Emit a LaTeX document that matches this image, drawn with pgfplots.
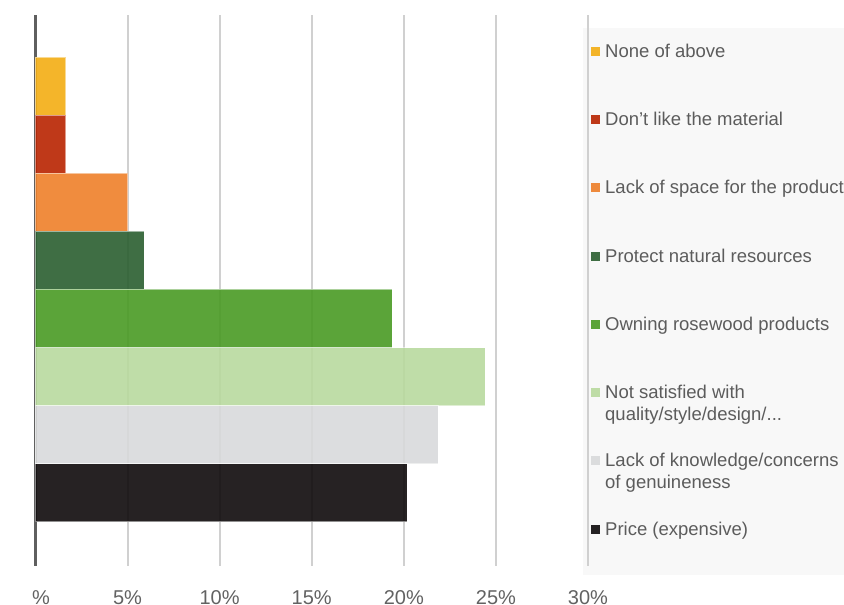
\documentclass[border=0pt]{standalone}
\usepackage{fontspec}
\setmainfont{Liberation Sans}
\usepackage{pgfplots}
\pgfplotsset{compat=1.18}
\definecolor{cNone}{HTML}{F3AD13}
\definecolor{cDont}{HTML}{B82400}
\definecolor{cSpace}{HTML}{EE7F29}
\definecolor{cProtect}{HTML}{2A5E30}
\definecolor{cOwning}{HTML}{499A24}
\definecolor{cNotsat}{HTML}{B8D99E}
\definecolor{cKnow}{HTML}{D8D9DB}
\definecolor{cPrice}{HTML}{0E0A0B}
\definecolor{axisgray}{HTML}{5F5F5F}
\definecolor{gridgray}{HTML}{D0D0D0}
\definecolor{tickgray}{HTML}{626262}
\definecolor{legendgray}{HTML}{5C5C5C}
\definecolor{panelgray}{HTML}{F8F8F8}
\newcommand{\LE}[1]{\parbox[t]{260bp}{#1}}
\newcommand{\LEE}[2]{\parbox[t]{260bp}{#1\\#2}}
\pgfplotsset{
  mybar/.style={xbar, bar shift=0pt, bar width=1, fill opacity=0.9,
    draw=white, draw opacity=0.5, line width=1bp,
    legend image code/.code={\fill[##1,draw=none] (0bp,1.5bp) rectangle (9bp,10.5bp);}},
}
\begin{document}
\begin{tikzpicture}
\begin{axis}[
  set layers,
  at={(35.4bp,39bp)}, anchor=south west,
  scale only axis, width=552.6bp, height=551bp,
  xmin=0, xmax=30, ymin=-1.263, ymax=8.228,
  clip=false,
  axis lines*=left,
  x axis line style={draw=none},
  y axis line style={draw=axisgray, line width=3.3bp, -},
  ytick=\empty,
  xtick={0,5,10,15,20,25,30},
  xticklabels={\phantom{0}\%,5\%,10\%,15\%,20\%,25\%,30\%},
  major tick length=0pt,
  xmajorgrids, grid style={draw=gridgray, line width=2bp},
  xticklabel style={font=\fontsize{20bp}{24bp}\selectfont, text=tickgray, anchor=base, yshift=-38bp},
  legend style={at={(axis description cs:1.0054,0.9764)}, anchor=north west,
    draw=none, fill=none, inner sep=0pt, column sep=5bp, row sep=0pt,
    font=\fontsize{18.5bp}{22bp}\selectfont, text=legendgray,
    cells={anchor=base west}, nodes={inner sep=0pt, text height=29bp, text depth=39.3bp}},
]
\begin{pgfonlayer}{axis background}
\fill[panelgray] (axis description cs:0.991,-0.0163) rectangle (axis description cs:1.6,0.9764);
\end{pgfonlayer}
\addplot[mybar, fill=cNone] coordinates {(1.64,7)};
\addlegendentry{\LE{None of above}}
\addplot[mybar, fill=cDont] coordinates {(1.64,6)};
\addlegendentry{\LE{Don't like the material}}
\addplot[mybar, fill=cSpace] coordinates {(5.0,5)};
\addlegendentry{\LE{Lack of space for the product}}
\addplot[mybar, fill=cProtect] coordinates {(5.9,4)};
\addlegendentry{\LE{Protect natural resources}}
\addplot[mybar, fill=cOwning] coordinates {(19.36,3)};
\addlegendentry{\LE{Owning rosewood products}}
\addplot[mybar, fill=cNotsat] coordinates {(24.41,2)};
\addlegendentry{\LEE{Not satisfied with}{quality/style/design/...}}
\addplot[mybar, fill=cKnow] coordinates {(21.87,1)};
\addlegendentry{\LEE{Lack of knowledge/concerns}{of genuineness}}
\addplot[mybar, fill=cPrice] coordinates {(20.19,0)};
\addlegendentry{\LE{Price (expensive)}}
\end{axis}
\pgfresetboundingbox
\path[use as bounding box] (0,0) rectangle (844bp,605bp);
\end{tikzpicture}
\end{document}
